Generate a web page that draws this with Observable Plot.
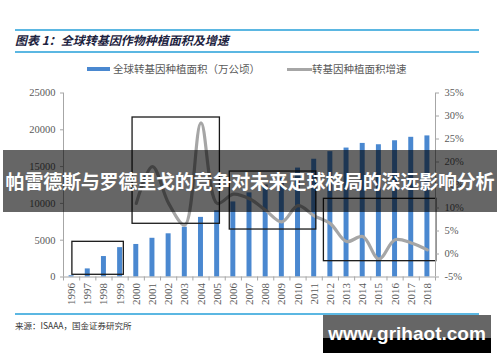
<!DOCTYPE html>
<html><head><meta charset="utf-8">
<script src="https://cdn.jsdelivr.net/npm/d3@7"></script>
<script src="https://cdn.jsdelivr.net/npm/@observablehq/plot@0.6"></script>
<style>
body{margin:0;background:#fff;}
#wrap{position:relative;width:500px;height:362px;overflow:hidden;font-family:"Noto Sans CJK SC",sans-serif;background:#fff;}
.hline{position:absolute;left:15px;width:464px;height:1.5px;background:#5bb7e2;}
#title{position:absolute;left:15px;top:31px;font-size:12px;font-weight:bold;font-style:italic;color:#1d2340;line-height:18px;white-space:nowrap;}
#legend{position:absolute;top:61px;left:0;width:500px;height:16px;font-size:10.5px;color:#595959;white-space:nowrap;}
#legend .sw{position:absolute;}
#legend .tx{position:absolute;top:0;line-height:16px;}
#chart{position:absolute;left:0;top:0;}
#source{position:absolute;left:15px;top:318px;font-size:8.5px;color:#333;white-space:nowrap;line-height:14px;}
#banner{position:absolute;left:3px;top:150px;width:494px;height:62px;background:rgba(0,0,0,0.6);color:#fff;font-weight:bold;font-size:19px;line-height:62px;text-align:center;white-space:nowrap;letter-spacing:-0.2px;}
#wm{position:absolute;left:323px;top:315px;width:168px;height:38px;background:linear-gradient(#666 0%,#666 60%,#000 60%,#000 100%);color:#fff;font-family:"Liberation Sans",sans-serif;font-weight:bold;font-size:19px;line-height:38px;text-align:center;white-space:nowrap;}
</style></head><body>
<div id="wrap">
  <div class="hline" style="top:29px"></div>
  <div id="title">图表 1：全球转基因作物种植面积及增速</div>
  <div class="hline" style="top:51px"></div>
  <div id="legend">
    <div class="sw" style="left:87px;top:6px;width:23px;height:4px;background:#4a88d0"></div>
    <div class="tx" style="left:113px">全球转基因种植面积（万公顷）</div>
    <div class="sw" style="left:287px;top:7px;width:25px;height:2.5px;background:#a6a6a6"></div>
    <div class="tx" style="left:312px">转基因种植面积增速</div>
  </div>
  <div id="chart"></div>
  <div class="hline" style="top:313px"></div>
  <div id="source">来源：ISAAA，国金证券研究所</div>
  <div id="banner">帕雷德斯与罗德里戈的竞争对未来足球格局的深远影响分析</div>
  <div id="wm">www.grihaot.com</div>
</div>
<script>
// Categories (years)
const years = [1996,1997,1998,1999,2000,2001,2002,2003,2004,2005,2006,2007,2008,2009,2010,2011,2012,2013,2014,2015,2016,2017,2018];
// Global GM crop area (万公顷)
const areaValues = [170,1100,2780,3990,4420,5260,5870,6770,8100,9000,10200,11430,12500,13400,14800,16000,17030,17520,18150,17970,18510,18980,19170];
// Growth rate (%) from 2000
const growthYears = [2000,2001,2002,2003,2004,2005,2006,2007,2008,2009,2010,2011,2012,2013,2014,2015,2016,2017,2018];
const growthValues = [11,19,11,6.3,28.5,11,13,12,9.5,7,10.5,8.3,6.6,2.7,3.8,-1.1,3.1,2.4,0.9];
// Tick labels
const leftTicks = [0,5000,10000,15000,20000,25000];
const rightTicks = [-5,0,5,10,15,20,25,30,35];
// Highlight boxes (year range, value range on left axis)
const boxX1 = [1996.05,1999.77,2005.78,2011.6];
const boxX2 = [1999.23,2005.17,2011.13,2018.55];
const boxY1 = [300,7230,6450,2150];
const boxY2 = [4780,21670,14330,10620];

const bars = years.map((y,i)=>({year:y, area:areaValues[i]}));
const growth = growthYears.map((y,i)=>({year:y, g:growthValues[i]}));
const boxes = boxX1.map((x,i)=>({x1:x, x2:boxX2[i], y1:boxY1[i], y2:boxY2[i]}));
const toLeft = p => (p+5)*625; // right axis (-5%..35%) onto left (0..25000)
const bounds = years.map(y=>y-0.5).concat([years[years.length-1]+0.5]);

const chart = Plot.plot({
  width:500, height:362,
  marginLeft:63, marginRight:65, marginTop:92.5, marginBottom:85.5,
  style:{fontFamily:"'Liberation Serif', serif", fontSize:"11px", background:"transparent", color:"#595959"},
  x:{domain:[1995.5,2018.5]},
  y:{domain:[0,25000]},
  marks:[
    Plot.rectY(bars,{x1:d=>d.year-0.5, x2:d=>d.year+0.5, y:"area", fill:"#4a88d0", insetLeft:5.6, insetRight:5.6}),
    Plot.line(growth,{x:"year", y:d=>toLeft(d.g), curve:"catmull-rom", stroke:"#a6a6a6", strokeWidth:3.2}),
    Plot.rect(boxes,{x1:"x1", x2:"x2", y1:"y1", y2:"y2", fill:"none", stroke:"#1a1a1a", strokeWidth:1.3}),
    Plot.ruleX([1995.5],{stroke:"#a6a6a6"}),
    Plot.ruleX([2018.5],{stroke:"#a6a6a6"}),
    Plot.ruleY([0],{stroke:"#a6a6a6"}),
    Plot.axisY({ticks:leftTicks, tickFormat:d3.format("d"), tickSize:3, tickPadding:5, label:null, stroke:"#a6a6a6", fill:"#595959", fontSize:10.5}),
    Plot.axisY({anchor:"right", ticks:rightTicks.map(toLeft), tickFormat:v=>Math.round(v/625-5)+"%", tickSize:3, tickPadding:6, label:null, stroke:"#a6a6a6", fill:"#595959", fontSize:10.5}),
    Plot.axisX({ticks:bounds, tickFormat:()=>"", tickSize:4, label:null, stroke:"#a6a6a6"}),
    Plot.axisX({ticks:years, tickFormat:d=>String(d), tickSize:0, tickPadding:6, tickRotate:-90, label:null, fill:"#595959", fontSize:11})
  ]
});
document.getElementById("chart").appendChild(chart);
</script>
</body></html>
